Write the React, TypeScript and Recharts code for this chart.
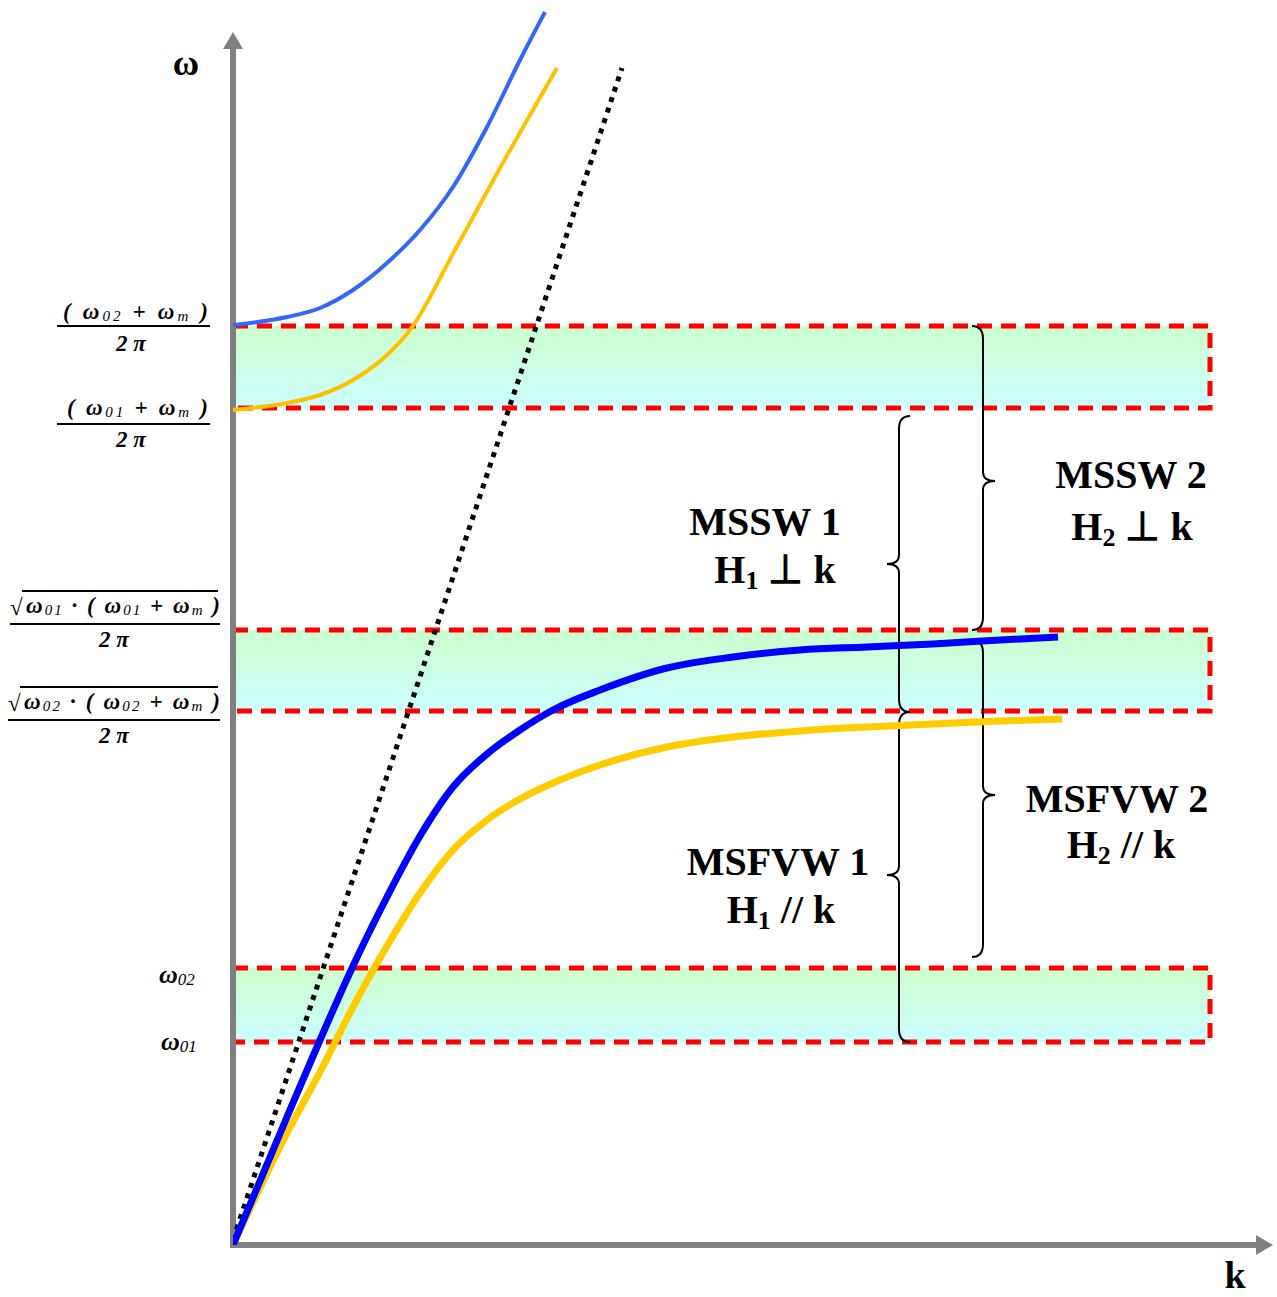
import React from "react";
import { ComposedChart, Line, XAxis, YAxis, ReferenceArea, ReferenceLine } from "recharts";

// dispersion branches, k and ω in arbitrary units
const blueUpper = [
  { k: 0, w: 9.2 }, { k: 0.54, w: 9.28 }, { k: 0.87, w: 9.37 }, { k: 1.2, w: 9.55 },
  { k: 1.54, w: 9.82 }, { k: 1.87, w: 10.15 }, { k: 2.2, w: 10.58 }, { k: 2.54, w: 11.18 },
  { k: 2.87, w: 11.85 }, { k: 3.12, w: 12.33 },
];
const yellowUpper = [
  { k: 0, w: 8.35 }, { k: 0.54, w: 8.42 }, { k: 0.87, w: 8.5 }, { k: 1.2, w: 8.65 },
  { k: 1.54, w: 8.9 }, { k: 1.77, w: 9.15 }, { k: 2.22, w: 9.95 }, { k: 2.67, w: 10.77 },
  { k: 3.24, w: 11.77 },
];
const blueLower = [
  { k: 0, w: 0 }, { k: 0.54, w: 1.28 }, { k: 0.87, w: 2.05 },
  { k: 1.2, w: 2.79 }, { k: 1.54, w: 3.48 }, { k: 1.87, w: 4.09 }, { k: 2.2, w: 4.58 },
  { k: 2.54, w: 4.91 }, { k: 2.87, w: 5.15 }, { k: 3.2, w: 5.35 }, { k: 3.67, w: 5.55 },
  { k: 4.34, w: 5.77 }, { k: 5.0, w: 5.88 }, { k: 5.67, w: 5.95 }, { k: 6.34, w: 5.98 },
  { k: 7.0, w: 6.01 }, { k: 7.67, w: 6.05 }, { k: 8.25, w: 6.08 },
];
const yellowLower = [
  { k: 0, w: 0 }, { k: 0.54, w: 1.12 }, { k: 0.87, w: 1.73 },
  { k: 1.2, w: 2.38 }, { k: 1.54, w: 2.99 }, { k: 1.87, w: 3.52 }, { k: 2.2, w: 3.95 },
  { k: 2.54, w: 4.25 }, { k: 2.87, w: 4.46 }, { k: 3.2, w: 4.62 }, { k: 3.67, w: 4.8 },
  { k: 4.34, w: 4.98 }, { k: 5.0, w: 5.08 }, { k: 5.67, w: 5.14 }, { k: 6.34, w: 5.18 },
  { k: 7.0, w: 5.21 }, { k: 7.67, w: 5.24 }, { k: 8.29, w: 5.26 },
];
const lightLine = [{ k: 0, w: 0.05 }, { k: 3.89, w: 11.77 }];

// shaded frequency bands
const bandLow = [8.37, 5.34, 2.03];
const bandHigh = [9.19, 6.15, 2.77];
const bandEnd = 9.77;

// braces: position, span, tip, side (-1 points left, 1 points right)
const braceK = [6.66, 6.66, 7.5, 7.5];
const braceTop = [8.29, 5.33, 9.19, 6.05];
const braceBottom = [5.33, 2.03, 6.15, 2.88];
const braceTip = [6.81, 3.7, 7.64, 4.5];
const braceSide = [-1, -1, 1, 1];

const kMax = 10.44;
const wMax = 12.45;
const kArrow = 10.4;
const wArrow = 12.13;

const serif = "'Liberation Serif', 'Times New Roman', Tinos, serif";

const arrowShape = (p: any) => {
  const { x1, y1, x2, y2 } = p;
  const len = Math.hypot(x2 - x1, y2 - y1) || 1;
  const ux = (x2 - x1) / len;
  const uy = (y2 - y1) / len;
  const head = 17;
  const half = 10;
  const bx = x2 - ux * head;
  const by = y2 - uy * head;
  return (
    <g>
      <line x1={x1 - ux * 3} y1={y1 - uy * 3} x2={bx} y2={by} stroke="#808080" strokeWidth={6} />
      <polygon
        points={`${x2},${y2} ${bx - uy * half},${by + ux * half} ${bx + uy * half},${by - ux * half}`}
        fill="#808080"
      />
    </g>
  );
};

const braceShape = (i: number) => (p: any) => {
  const { x1, y1, y2 } = p;
  const x = x1;
  const dir = braceSide[i];
  const frac = (braceTop[i] - braceTip[i]) / (braceTop[i] - braceBottom[i]);
  const ym = y1 + (y2 - y1) * frac;
  const c = 11;
  const v = 13;
  const d = 12;
  const t = 9;
  const path = `M ${x - dir * c} ${y1} Q ${x} ${y1} ${x} ${y1 + v} L ${x} ${ym - t} Q ${x} ${ym} ${x + dir * d} ${ym} Q ${x} ${ym} ${x} ${ym + t} L ${x} ${y2 - v} Q ${x} ${y2} ${x - dir * c} ${y2}`;
  return <path d={path} fill="none" stroke="#000" strokeWidth={2} />;
};

const Sub = ({ children, size = 15 }: { children: React.ReactNode; size?: number }) => (
  <tspan fontSize={size} fontWeight="normal" dy={2}>{children}</tspan>
);
const Up = () => <tspan dy={-2}> </tspan>;

const Labels = () => (
  <svg width={1277} height={1297} style={{ position: "absolute", left: 0, top: 0, pointerEvents: "none" }}>
    <g style={{ fontFamily: serif, fontWeight: "bold" }} fill="#000">
      <text x={186} y={75} fontSize={36} textAnchor="middle">ω</text>
      <text x={1235} y={1288} fontSize={38} textAnchor="middle">k</text>

      <text x={765} y={535} fontSize={40} textAnchor="middle">MSSW 1</text>
      <text x={775} y={583} fontSize={40} textAnchor="middle">H<tspan fontSize={26} dy={6}>1</tspan><tspan dy={-6}> ⊥ k</tspan></text>
      <text x={1131} y={488} fontSize={40} textAnchor="middle">MSSW 2</text>
      <text x={1132} y={540} fontSize={40} textAnchor="middle">H<tspan fontSize={26} dy={6}>2</tspan><tspan dy={-6}> ⊥ k</tspan></text>
      <text x={778} y={875} fontSize={40} textAnchor="middle">MSFVW 1</text>
      <text x={781} y={923} fontSize={40} textAnchor="middle">H<tspan fontSize={26} dy={6}>1</tspan><tspan dy={-6}> // k</tspan></text>
      <text x={1117} y={812} fontSize={40} textAnchor="middle">MSFVW 2</text>
      <text x={1121} y={858} fontSize={40} textAnchor="middle">H<tspan fontSize={26} dy={6}>2</tspan><tspan dy={-6}> // k</tspan></text>
    </g>

    <g style={{ fontFamily: serif, fontWeight: "bold", fontStyle: "italic" }} fill="#000" fontSize={23}>
      <text x={63} y={319} textLength={145} lengthAdjust="spacing">( ω<Sub>02</Sub><Up />+ ω<Sub>m</Sub><Up />)</text>
      <line x1={57} y1={326} x2={210} y2={326} stroke="#000" strokeWidth={2} />
      <text x={131} y={351} textAnchor="middle">2 π</text>

      <text x={67} y={415} textLength={141} lengthAdjust="spacing">( ω<Sub>01</Sub><Up />+ ω<Sub>m</Sub><Up />)</text>
      <line x1={57} y1={424} x2={210} y2={424} stroke="#000" strokeWidth={2} />
      <text x={131} y={447} textAnchor="middle">2 π</text>

      <text x={10} y={615} style={{ fontStyle: "normal" }}>√</text>
      <line x1={22} y1={591} x2={218} y2={591} stroke="#000" strokeWidth={2} />
      <text x={26} y={613} textLength={194} lengthAdjust="spacing">ω<Sub>01</Sub><Up />· ( ω<Sub>01</Sub><Up />+ ω<Sub>m</Sub><Up />)</text>
      <line x1={10} y1={624} x2={220} y2={624} stroke="#000" strokeWidth={2} />
      <text x={114} y={647} textAnchor="middle">2 π</text>

      <text x={8} y={711} style={{ fontStyle: "normal" }}>√</text>
      <line x1={20} y1={687} x2={218} y2={687} stroke="#000" strokeWidth={2} />
      <text x={24} y={709} textLength={196} lengthAdjust="spacing">ω<Sub>02</Sub><Up />· ( ω<Sub>02</Sub><Up />+ ω<Sub>m</Sub><Up />)</text>
      <line x1={8} y1={720} x2={220} y2={720} stroke="#000" strokeWidth={2} />
      <text x={114} y={743} textAnchor="middle">2 π</text>

      <text x={159} y={983} fontSize={26}>ω<Sub size={17}>02</Sub></text>
      <text x={161} y={1050} fontSize={26}>ω<Sub size={17}>01</Sub></text>
    </g>
  </svg>
);

export default function App() {
  return (
    <div style={{ position: "absolute", left: 0, top: 0, width: 1277, height: 1297, background: "#fff" }}>
      <ComposedChart width={1277} height={1297} margin={{ top: 0, right: 0, bottom: 52, left: 233 }}>
        <defs>
          <linearGradient id="bandFill" x1="0" y1="0" x2="0" y2="1">
            <stop offset="0%" stopColor="#ccffcc" />
            <stop offset="100%" stopColor="#ccffff" />
          </linearGradient>
        </defs>
        <XAxis type="number" dataKey="k" domain={[0, kMax]} allowDataOverflow hide />
        <YAxis type="number" dataKey="w" domain={[0, wMax]} allowDataOverflow hide />

        {bandLow.map((lo, i) => (
          <ReferenceArea
            key={`band${i}`}
            x1={0}
            x2={bandEnd}
            y1={lo}
            y2={bandHigh[i]}
            fill="url(#bandFill)"
            fillOpacity={1}
            stroke="#ff0000"
            strokeWidth={5}
            strokeDasharray="15 9"
          />
        ))}

        {braceK.map((k, i) => (
          <ReferenceLine
            key={`brace${i}`}
            segment={[{ x: k, y: braceTop[i] }, { x: k, y: braceBottom[i] }]}
            shape={braceShape(i)}
          />
        ))}

        <ReferenceLine segment={[{ x: 0, y: 0 }, { x: 0, y: wArrow }]} shape={arrowShape} />
        <ReferenceLine segment={[{ x: 0, y: 0 }, { x: kArrow, y: 0 }]} shape={arrowShape} />

        <Line data={lightLine} dataKey="w" type="linear" stroke="#000" strokeWidth={5} strokeDasharray="5 6" dot={false} activeDot={false} isAnimationActive={false} />
        <Line data={blueUpper} dataKey="w" type="monotone" stroke="#3366ff" strokeWidth={4} dot={false} activeDot={false} isAnimationActive={false} />
        <Line data={yellowUpper} dataKey="w" type="monotone" stroke="#ffc000" strokeWidth={4} dot={false} activeDot={false} isAnimationActive={false} />
        <Line data={yellowLower} dataKey="w" type="monotone" stroke="#ffcc00" strokeWidth={7} dot={false} activeDot={false} isAnimationActive={false} />
        <Line data={blueLower} dataKey="w" type="monotone" stroke="#0000ff" strokeWidth={7} dot={false} activeDot={false} isAnimationActive={false} />
      </ComposedChart>
      <Labels />
    </div>
  );
}
